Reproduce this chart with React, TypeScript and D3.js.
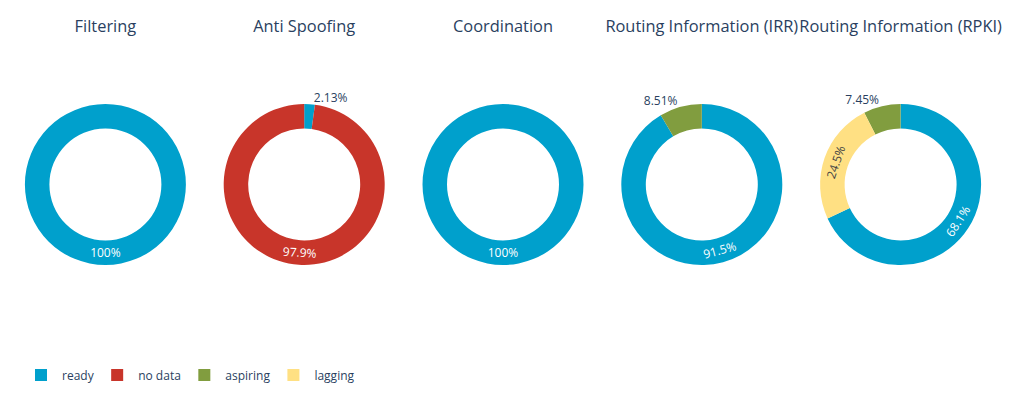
import React, { useEffect, useRef } from "react";
import * as d3 from "d3";

const titles = [
  "Filtering",
  "Anti Spoofing",
  "Coordination",
  "Routing Information (IRR)",
  "Routing Information (RPKI)",
];
// legend order
const categories = ["ready", "no data", "aspiring", "lagging"];
// order in which slices run clockwise from 12 o'clock
const sliceOrder = ["ready", "no data", "lagging", "aspiring"];
const colors = ["#00a0cc", "#c8352a", "#819d3f", "#ffe083"];

// counts per pie, in legend order (ready, no data, aspiring, lagging)
const filtering = [94, 0, 0, 0];
const antiSpoofing = [2, 92, 0, 0];
const coordination = [94, 0, 0, 0];
const irr = [86, 0, 8, 0];
const rpki = [64, 0, 7, 23];
const pies = [filtering, antiSpoofing, coordination, irr, rpki];

const W = 1024;
const H = 396;
const FONT = '"Open Sans", verdana, arial, sans-serif';
const TEXT = "#2a3f5f";

export default function App() {
  const ref = useRef<SVGSVGElement>(null);

  useEffect(() => {
    document.body.style.margin = "0";
    const svg = d3.select(ref.current);
    svg.selectAll("*").remove();

    const x = d3.scaleBand().domain(titles).range([6, 1000]);
    const color = d3.scaleOrdinal<string>().domain(categories).range(colors);
    const cy = 184.5;
    const rOuter = 80.5;
    const rInner = 56;
    const sig = d3.format(".3~r");
    const fmt = (f: number) => `${sig(f * 100)}%`;

    const pie = d3
      .pie<{ cat: string; v: number }>()
      .sort((a, b) => sliceOrder.indexOf(a.cat) - sliceOrder.indexOf(b.cat))
      .value((d) => d.v);
    const arc = d3
      .arc<d3.PieArcDatum<{ cat: string; v: number }>>()
      .innerRadius(rInner)
      .outerRadius(rOuter);

    titles.forEach((t, i) => {
      const cx = (x(t) as number) + x.bandwidth() / 2;
      svg
        .append("text")
        .attr("x", cx)
        .attr("y", 32)
        .attr("text-anchor", "middle")
        .attr("font-family", FONT)
        .attr("font-size", 16.4)
        .attr("fill", TEXT)
        .text(t);

      const data = categories
        .map((c, k) => ({ cat: c, v: pies[i][k] }))
        .filter((d) => d.v > 0);
      const total = d3.sum(data, (d) => d.v);
      const g = svg.append("g").attr("transform", `translate(${cx},${cy})`);
      const arcs = pie(data);

      g.selectAll("path")
        .data(arcs)
        .enter()
        .append("path")
        .attr("d", arc)
        .attr("fill", (d) => color(d.data.cat));

      arcs.forEach((a) => {
        const frac = a.data.v / total;
        const mid = (a.startAngle + a.endAngle) / 2;
        const label = fmt(frac);
        if (frac < 0.1) {
          const R = rOuter + 4;
          const px = Math.sin(mid) * R;
          const py = -Math.cos(mid) * R;
          const right = Math.sin(mid) >= 0;
          g.append("text")
            .attr("x", px + (right ? 4 : -2))
            .attr("y", py + 2)
            .attr("text-anchor", right ? "start" : "end")
            .attr("font-family", FONT)
            .attr("font-size", 12)
            .attr("fill", TEXT)
            .text(label);
        } else {
          const rm = (rInner + rOuter) / 2;
          const px = Math.sin(mid) * rm;
          const py = -Math.cos(mid) * rm;
          const deg = (mid * 180) / Math.PI;
          const rot = ((deg + 90) % 180) - 90;
          g.append("text")
            .attr("transform", `translate(${px},${py}) rotate(${rot})`)
            .attr("text-anchor", "middle")
            .attr("dy", "0.35em")
            .attr("font-family", FONT)
            .attr("font-size", 12)
            .attr("fill", a.data.cat === "lagging" ? "#444" : "#fff")
            .text(label);
        }
      });
    });

    // legend
    const legend = svg.append("g").attr("transform", `translate(35,375)`);
    let lx = 0;
    categories.forEach((c) => {
      legend
        .append("rect")
        .attr("x", lx)
        .attr("y", -6)
        .attr("width", 12)
        .attr("height", 12)
        .attr("fill", color(c));
      const txt = legend
        .append("text")
        .attr("x", lx + 27)
        .attr("y", 4.5)
        .attr("font-family", FONT)
        .attr("font-size", 12)
        .attr("fill", TEXT)
        .text(c);
      const w = (txt.node() as SVGTextElement).getComputedTextLength();
      lx += 27 + w + 17.5;
    });
  }, []);

  return <svg ref={ref} width={W} height={H} style={{ display: "block", background: "#fff" }} />;
}
